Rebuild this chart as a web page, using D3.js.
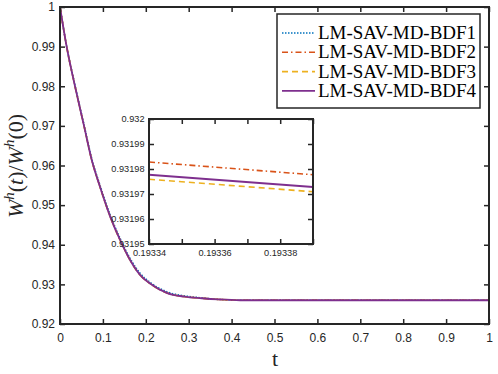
<!DOCTYPE html>
<html>
<head>
<meta charset="utf-8">
<script src="https://cdn.jsdelivr.net/npm/d3@7"></script>
<style>
	body { margin: 0; background: #fff; }
	svg { display: block; }
</style>
</head>
<body>
<div class="chart"></div>
<script>
// main curve
var tMain = [0, 0.0155, 0.035, 0.056, 0.074, 0.093, 0.117, 0.14, 0.163, 0.1865, 0.21, 0.25, 0.29, 0.33, 0.37, 0.42, 0.5, 0.6, 0.8, 1.0];
var bdf1Main = [1, 0.9901, 0.9802, 0.9703, 0.9617, 0.9551, 0.9475, 0.9416, 0.9366, 0.9328, 0.9305, 0.9281, 0.9271, 0.9266, 0.9262, 0.9260, 0.9260, 0.9260, 0.9260, 0.9260];
var bdf2Main = [1, 0.99, 0.98, 0.97, 0.9614, 0.9547, 0.9471, 0.9412, 0.9362, 0.9324, 0.9302, 0.9278, 0.9269, 0.9265, 0.9262, 0.9260, 0.9260, 0.9260, 0.9260, 0.9260];
var bdf3Main = [1, 0.99, 0.98, 0.97, 0.9614, 0.9547, 0.9471, 0.9412, 0.9362, 0.9324, 0.9302, 0.9278, 0.9269, 0.9265, 0.9262, 0.9260, 0.9260, 0.9260, 0.9260, 0.9260];
var bdf4Main = [1, 0.99, 0.98, 0.97, 0.9614, 0.9547, 0.9471, 0.9412, 0.9362, 0.9324, 0.9302, 0.9278, 0.9269, 0.9265, 0.9262, 0.9260, 0.9260, 0.9260, 0.9260, 0.9260];

// zoomed inset
var tInset = [0.19334, 0.19339];
var bdf2Inset = [0.9319828, 0.9319777];
var bdf3Inset = [0.9319759, 0.9319709];
var bdf4Inset = [0.9319777, 0.9319728];

var seriesNames = ["LM-SAV-MD-BDF1", "LM-SAV-MD-BDF2", "LM-SAV-MD-BDF3", "LM-SAV-MD-BDF4"];
var seriesColors = ["#0072BD", "#D95319", "#EDB120", "#7E2F8E"];
var seriesDash = ["1.5,1.5", "6,3,1.5,3", "6,4", null];

var xTicks = [0, 0.1, 0.2, 0.3, 0.4, 0.5, 0.6, 0.7, 0.8, 0.9, 1];
var xTickLabels = ["0", "0.1", "0.2", "0.3", "0.4", "0.5", "0.6", "0.7", "0.8", "0.9", "1"];
var yTicks = [0.92, 0.93, 0.94, 0.95, 0.96, 0.97, 0.98, 0.99, 1];
var yTickLabels = ["0.92", "0.93", "0.94", "0.95", "0.96", "0.97", "0.98", "0.99", "1"];

var insetXTicks = [0.19334, 0.19335, 0.19336, 0.19337, 0.19338, 0.19339];
var insetXTickLabels = ["0.19334", "", "0.19336", "", "0.19338", ""];
var insetYTicks = [0.93195, 0.93196, 0.93197, 0.93198, 0.93199, 0.932];
var insetYTickLabels = ["0.93195", "0.93196", "0.93197", "0.93198", "0.93199", "0.932"];

var axisColor = "#262626";
var tickFont = "'Liberation Sans', Arial, sans-serif";
var serifFont = "'Liberation Serif', 'DejaVu Serif', serif";

var svg = d3.select(".chart")
			.append("svg")
			.attr("width", 498)
			.attr("height", 374);

function drawAxes(g, x, y, xt, xl, yt, yl, fontSize, xPad, yPad) {
	var box = { l: x.range()[0], r: x.range()[1], t: y.range()[1], b: y.range()[0] };
	var axes = [
		{ ax: d3.axisBottom(x).tickValues(xt).tickFormat(function(d, i) { return xl[i]; }).tickPadding(xPad), tr: "translate(0," + box.b + ")" },
		{ ax: d3.axisTop(x).tickValues(xt).tickFormat(""), tr: "translate(0," + box.t + ")" },
		{ ax: d3.axisLeft(y).tickValues(yt).tickFormat(function(d, i) { return yl[i]; }).tickPadding(yPad), tr: "translate(" + box.l + ",0)" },
		{ ax: d3.axisRight(y).tickValues(yt).tickFormat(""), tr: "translate(" + box.r + ",0)" }
	];
	axes.forEach(function(a) {
		var ga = g.append("g")
				  .attr("transform", a.tr)
				  .call(a.ax.tickSizeInner(-5).tickSizeOuter(0));
		ga.select(".domain").remove();
		ga.selectAll("line").attr("stroke", axisColor).attr("stroke-width", 1.5);
		ga.selectAll("text")
		  .attr("fill", axisColor)
		  .style("font-family", tickFont)
		  .style("font-size", fontSize + "px");
	});
	g.append("rect")
	 .attr("x", box.l).attr("y", box.t)
	 .attr("width", box.r - box.l).attr("height", box.b - box.t)
	 .attr("fill", "none")
	 .attr("stroke", axisColor)
	 .attr("stroke-width", 2);
}

function drawSeries(g, x, y, ts, vals, i, clipId) {
	var line = d3.line()
				 .x(function(d, k) { return x(ts[k]); })
				 .y(function(d) { return y(d); })
				 .curve(d3.curveMonotoneX);
	g.append("path")
	 .datum(vals)
	 .attr("d", line)
	 .attr("clip-path", "url(#" + clipId + ")")
	 .attr("fill", "none")
	 .attr("stroke", seriesColors[i])
	 .attr("stroke-width", i == 3 ? 1.8 : 1.6)
	 .attr("stroke-dasharray", seriesDash[i]);
}

// main axes
var x = d3.scaleLinear().domain([0, 1]).range([60, 489]);
var y = d3.scaleLinear().domain([0.92, 1]).range([324, 7]);

var defs = svg.append("defs");
defs.append("clipPath").attr("id", "clipMain")
	.append("rect").attr("x", 60).attr("y", 7).attr("width", 429).attr("height", 317);

var mainG = svg.append("g");
[bdf1Main, bdf2Main, bdf3Main, bdf4Main].forEach(function(vals, i) {
	drawSeries(mainG, x, y, tMain, vals, i, "clipMain");
});
drawAxes(mainG, x, y, xTicks, xTickLabels, yTicks, yTickLabels, 12, 9, 5);

// axis titles
svg.append("text")
   .attr("x", 275).attr("y", 366)
   .attr("text-anchor", "middle")
   .style("font-family", serifFont)
   .style("font-size", "22px")
   .attr("fill", axisColor)
   .text("t");

var yLab = svg.append("text")
			  .attr("transform", "translate(23,166) rotate(-90)")
			  .attr("text-anchor", "middle")
			  .style("font-family", serifFont)
			  .style("font-size", "22px")
			  .attr("fill", axisColor);
yLab.append("tspan").style("font-style", "italic").text("W");
yLab.append("tspan").style("font-style", "italic").style("font-size", "15px").attr("dy", -9).text("h");
yLab.append("tspan").attr("dy", 9).text("(");
yLab.append("tspan").style("font-style", "italic").text("t");
yLab.append("tspan").text(")/");
yLab.append("tspan").style("font-style", "italic").text("W");
yLab.append("tspan").style("font-style", "italic").style("font-size", "15px").attr("dy", -9).text("h");
yLab.append("tspan").attr("dy", 9).text("(0)");

// inset
var xi = d3.scaleLinear().domain([0.19334, 0.19339]).range([149, 313]);
var yi = d3.scaleLinear().domain([0.93195, 0.932]).range([244, 119]);

defs.append("clipPath").attr("id", "clipInset")
	.append("rect").attr("x", 149).attr("y", 119).attr("width", 164).attr("height", 125);

var insetG = svg.append("g");
insetG.append("rect")
	  .attr("x", 149).attr("y", 119).attr("width", 164).attr("height", 125)
	  .attr("fill", "#fff");
[null, bdf2Inset, bdf3Inset, bdf4Inset].forEach(function(vals, i) {
	if (vals) drawSeries(insetG, xi, yi, tInset, vals, i, "clipInset");
});
drawAxes(insetG, xi, yi, insetXTicks, insetXTickLabels, insetYTicks, insetYTickLabels, 9.2, 5, 4.5);

// legend
var leg = svg.append("g");
leg.append("rect")
   .attr("x", 277).attr("y", 14).attr("width", 203).attr("height", 94)
   .attr("fill", "#fff")
   .attr("stroke", axisColor)
   .attr("stroke-width", 1.5);
seriesNames.forEach(function(name, i) {
	var cy = 33 + i * 19.3;
	leg.append("line")
	   .attr("x1", 282).attr("x2", 315)
	   .attr("y1", cy).attr("y2", cy)
	   .attr("stroke", seriesColors[i])
	   .attr("stroke-width", i == 3 ? 1.8 : 1.6)
	   .attr("stroke-dasharray", seriesDash[i]);
	leg.append("text")
	   .attr("x", 318).attr("y", cy + 6)
	   .attr("textLength", 158)
	   .attr("lengthAdjust", "spacingAndGlyphs")
	   .style("font-family", serifFont)
	   .style("font-size", "18px")
	   .attr("fill", "#000")
	   .text(name);
});
</script>
</body>
</html>
